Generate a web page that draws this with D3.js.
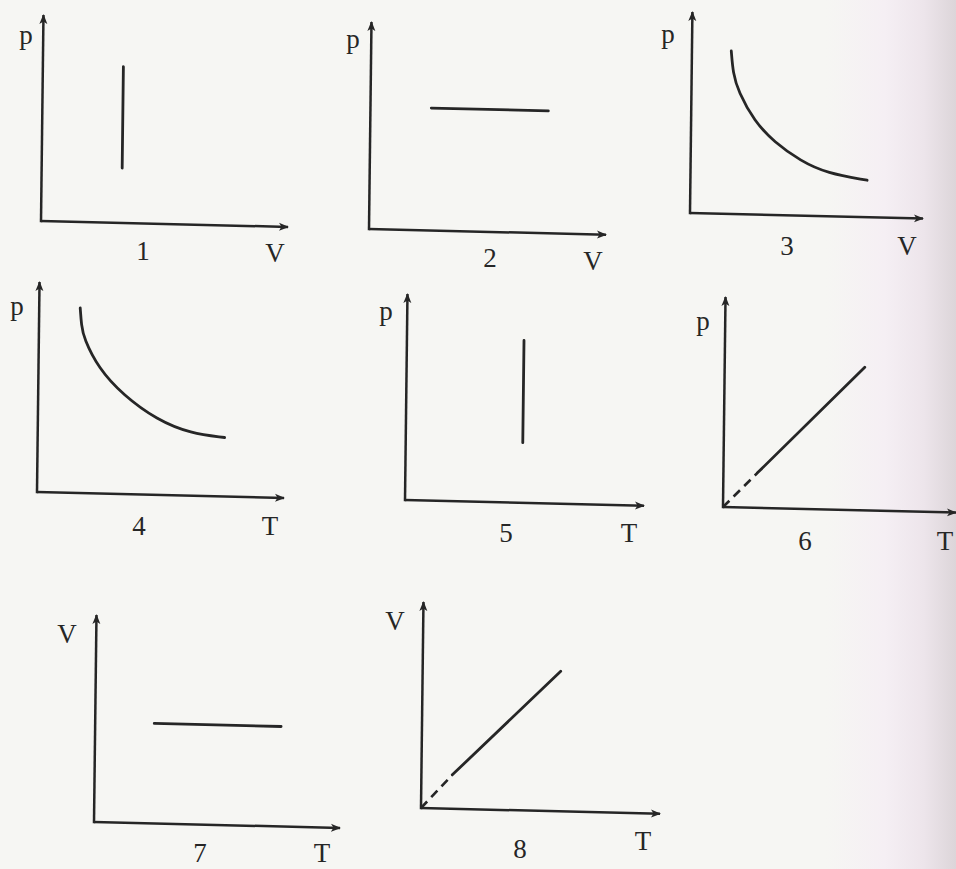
<!DOCTYPE html>
<html>
<head>
<meta charset="utf-8">
<script src="https://cdn.jsdelivr.net/npm/d3@7"></script>
<style>
  html, body { margin: 0; padding: 0; background: #f6f6f3; }
  svg { display: block; }
</style>
</head>
<body>
<svg id="chart"></svg>
<script>
// chart values, in the units of each little plot (0..10 on both axes)
const panelNumbers = ["1", "2", "3", "4", "5", "6", "7", "8"];
const xNames = ["V", "V", "V", "T", "T", "T", "T", "T"];
const yNames = ["p", "p", "p", "p", "p", "p", "V", "V"];

const curve1 = [[3.3, 2.7], [3.3, 7.7]];
const curve2 = [[2.6, 6.0], [7.6, 6.0]];
const curve3 = [[1.71, 8.23], [1.80, 7.1], [2.03, 6.21], [2.75, 4.70], [3.62, 3.69], [4.78, 2.76], [5.94, 2.17], [7.68, 1.87]];
const curve4 = [[1.68, 8.94], [1.74, 8.1], [1.84, 7.49], [2.46, 6.04], [3.48, 4.78], [4.88, 3.62], [6.27, 3.00], [7.66, 2.85]];
const curve5 = [[4.96, 2.96], [4.96, 8.0]];
const curve6 = [[1.48, 1.69], [6.09, 6.91]];
const curve7 = [[2.43, 4.9], [7.65, 4.9]];
const curve8 = [[1.31, 1.67], [5.85, 6.9]];
const dashed6 = [[0, 0], [1.48, 1.69]];
const dashed8 = [[0, 0], [1.31, 1.67]];

const curves = [curve1, curve2, curve3, curve4, curve5, curve6, curve7, curve8];
const dashes = [null, null, null, null, null, dashed6, null, dashed8];

// where each plot sits on the page
const layout = [
  {ox: 41,  oy: 221, w: 244, h: 203, yl: [-15, -177], nl: [102, 39], xl: [234, 41]},
  {ox: 369, oy: 229, w: 234, h: 204, yl: [-16, -181], nl: [121, 38], xl: [224, 41]},
  {ox: 690, oy: 213, w: 230, h: 198, yl: [-22, -170], nl: [97, 42],  xl: [217, 42]},
  {ox: 37,  oy: 492, w: 244, h: 207, yl: [-20, -177], nl: [102, 43], xl: [233, 43]},
  {ox: 405, oy: 500, w: 236, h: 203, yl: [-19, -180], nl: [101, 42], xl: [224, 42]},
  {ox: 723, oy: 507, w: 230, h: 207, yl: [-20, -177], nl: [82, 43],  xl: [222, 43]},
  {ox: 94,  oy: 822, w: 243, h: 204, yl: [-27, -179], nl: [106, 40], xl: [228, 40]},
  {ox: 421, oy: 808, w: 236, h: 203, yl: [-26, -178], nl: [99, 50],  xl: [222, 42]}
];

const width = 956, height = 869;
const ink = "#262626";

const svg = d3.select("#chart")
    .attr("width", width)
    .attr("height", height)
    .attr("font-family", "'Liberation Serif', 'DejaVu Serif', serif")
    .attr("font-size", 27);

// scanned page tint on the right edge
const defs = svg.append("defs");
const grad = defs.append("linearGradient")
    .attr("id", "edge")
    .attr("x1", 0).attr("x2", 1).attr("y1", 0).attr("y2", 0);
grad.append("stop").attr("offset", 0).attr("stop-color", "#f6f6f3");
grad.append("stop").attr("offset", 0.45).attr("stop-color", "#f5eff4");
grad.append("stop").attr("offset", 0.75).attr("stop-color", "#ede5eb");
grad.append("stop").attr("offset", 1).attr("stop-color", "#dcd5d9");

svg.append("rect")
    .attr("width", width).attr("height", height)
    .attr("fill", "#f6f6f3");
svg.append("rect")
    .attr("x", 826).attr("width", width - 826).attr("height", height)
    .attr("fill", "url(#edge)");

defs.append("marker")
    .attr("id", "arrow")
    .attr("viewBox", "0 0 10 10")
    .attr("refX", 9).attr("refY", 5)
    .attr("markerWidth", 10).attr("markerHeight", 10)
    .attr("markerUnits", "userSpaceOnUse")
    .attr("orient", "auto")
  .append("path")
    .attr("d", "M0,1 L10,5 L0,9 L2.5,5 Z")
    .attr("fill", ink);

const line = d3.line().curve(d3.curveBasis);

panelNumbers.forEach((num, i) => {
  const L = layout[i];
  const x = d3.scaleLinear().domain([0, 10]).range([0, L.w]);
  const y = d3.scaleLinear().domain([0, 10]).range([0, -L.h]);

  // the scan is a little askew: x axes drop to the right, y axes lean right
  const g = svg.append("g")
      .attr("transform", `matrix(1,0.024,-0.012,1,${L.ox},${L.oy})`);

  // axes with arrow heads
  g.append("line")
      .attr("x1", x(0)).attr("y1", y(0))
      .attr("x2", x(10) + 3).attr("y2", y(0))
      .attr("stroke", ink).attr("stroke-width", 2.5)
      .attr("marker-end", "url(#arrow)");
  g.append("line")
      .attr("x1", x(0)).attr("y1", y(0) + 1.2)
      .attr("x2", x(0)).attr("y2", y(10) - 3)
      .attr("stroke", ink).attr("stroke-width", 2.5)
      .attr("marker-end", "url(#arrow)");

  g.append("path")
      .attr("d", line(curves[i].map(d => [x(d[0]), y(d[1])])))
      .attr("fill", "none")
      .attr("stroke", ink)
      .attr("stroke-width", 2.8)
      .attr("stroke-linecap", "round");

  if (dashes[i]) {
    g.append("path")
        .attr("d", d3.line()(dashes[i].map(d => [x(d[0]), y(d[1])])))
        .attr("fill", "none")
        .attr("stroke", ink)
        .attr("stroke-width", 2.6)
        .attr("stroke-dasharray", "9,6");
  }

  // labels in page coordinates, not skewed
  const text = (s, pos) => svg.append("text")
      .attr("x", L.ox + pos[0]).attr("y", L.oy + pos[1])
      .attr("text-anchor", "middle")
      .attr("fill", ink)
      .text(s);

  text(yNames[i], L.yl);
  text(num, L.nl);
  text(xNames[i], L.xl);
});
</script>
</body>
</html>
